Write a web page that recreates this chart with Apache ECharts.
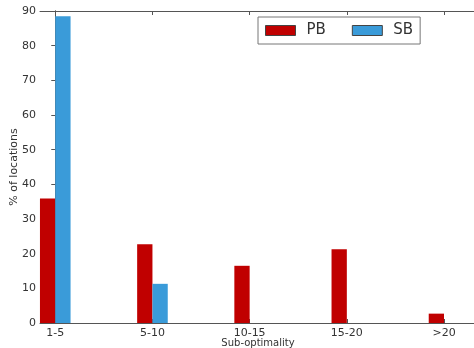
<!DOCTYPE html>
<html>
<head>
<meta charset="utf-8">
<script src="https://cdn.jsdelivr.net/npm/echarts@6/dist/echarts.min.js"></script>
<style>
  html, body { margin: 0; padding: 0; background: #fff; }
  #chart { width: 474px; height: 348px; }
</style>
</head>
<body>
<div id="chart"></div>
<script>
// Share of locations per sub-optimality bucket
const categories = ['1-5', '5-10', '10-15', '15-20', '>20'];
const pbValues = [35.9, 22.7, 16.5, 21.3, 2.7];
const sbValues = [88.5, 11.3, 0, 0, 0];
const yTicks = [0, 10, 20, 30, 40, 50, 60, 70, 80, 90];

const idx = categories.map((c, i) => i);
const font = 'DejaVu Sans';
const axisColor = '#555';
const textColor = '#333';

const chart = echarts.init(document.getElementById('chart'), null, { renderer: 'canvas' });

const xCommon = {
  type: 'value',
  min: -0.157,
  max: 4.329,
  splitLine: { show: false },
  axisLine: { show: true, onZero: false, lineStyle: { color: axisColor, width: 1 } },
  axisTick: { show: true, inside: true, length: 4, customValues: idx, lineStyle: { color: axisColor } }
};

const yCommon = {
  type: 'value',
  min: 0,
  max: 90,
  interval: 10,
  splitLine: { show: false },
  axisLine: { show: true, lineStyle: { color: axisColor, width: 1 } },
  axisTick: { show: true, inside: true, length: 4, lineStyle: { color: axisColor } }
};

chart.setOption({
  animation: false,
  backgroundColor: '#fff',
  grid: { left: 40, right: -2, top: 11, bottom: 25, containLabel: false, outerBoundsMode: 'none' },
  legend: {
    data: ['PB', 'SB'],
    left: 258,
    top: 17,
    orient: 'horizontal',
    itemWidth: 30,
    itemHeight: 10,
    itemGap: 26,
    padding: [6, 7, 6, 7],
    borderColor: '#777',
    borderWidth: 1,
    icon: 'rect',
    itemStyle: { borderColor: '#444', borderWidth: 1 },
    textStyle: { fontFamily: font, fontSize: 15, color: textColor, padding: [0, 0, 0, 6] }
  },
  xAxis: [
    Object.assign({}, xCommon, {
      position: 'bottom',
      name: 'Sub-optimality',
      nameLocation: 'middle',
      nameGap: 15,
      nameMoveOverlap: false,
      nameTextStyle: { fontFamily: font, fontSize: 10, color: textColor },
      axisLabel: {
        show: true,
        customValues: idx,
        margin: 5,
        fontFamily: font,
        fontSize: 11,
        color: textColor,
        formatter: v => categories[Math.round(v)]
      }
    }),
    Object.assign({}, xCommon, {
      position: 'top',
      axisLabel: { show: false }
    })
  ],
  yAxis: [
    Object.assign({}, yCommon, {
      position: 'left',
      name: '% of locations',
      nameLocation: 'middle',
      nameGap: 20,
      nameMoveOverlap: false,
      nameTextStyle: { fontFamily: font, fontSize: 11, color: textColor },
      axisLabel: {
        margin: 4,
        fontFamily: font,
        fontSize: 11,
        color: textColor,
        formatter: v => (yTicks.indexOf(v) >= 0 ? String(v) : '')
      }
    }),
    Object.assign({}, yCommon, {
      position: 'right',
      axisLabel: { show: false }
    })
  ],
  series: [
    {
      name: 'PB',
      type: 'bar',
      xAxisIndex: 0,
      yAxisIndex: 0,
      barWidth: 15.3,
      barGap: '0%',
      itemStyle: { color: '#c00000' },
      data: idx.map(i => [i, pbValues[i]])
    },
    {
      name: 'SB',
      type: 'bar',
      xAxisIndex: 0,
      yAxisIndex: 0,
      barWidth: 15.3,
      barGap: '0%',
      itemStyle: { color: '#3a9bd9' },
      data: idx.map(i => [i, sbValues[i]])
    }
  ]
});
</script>
</body>
</html>
